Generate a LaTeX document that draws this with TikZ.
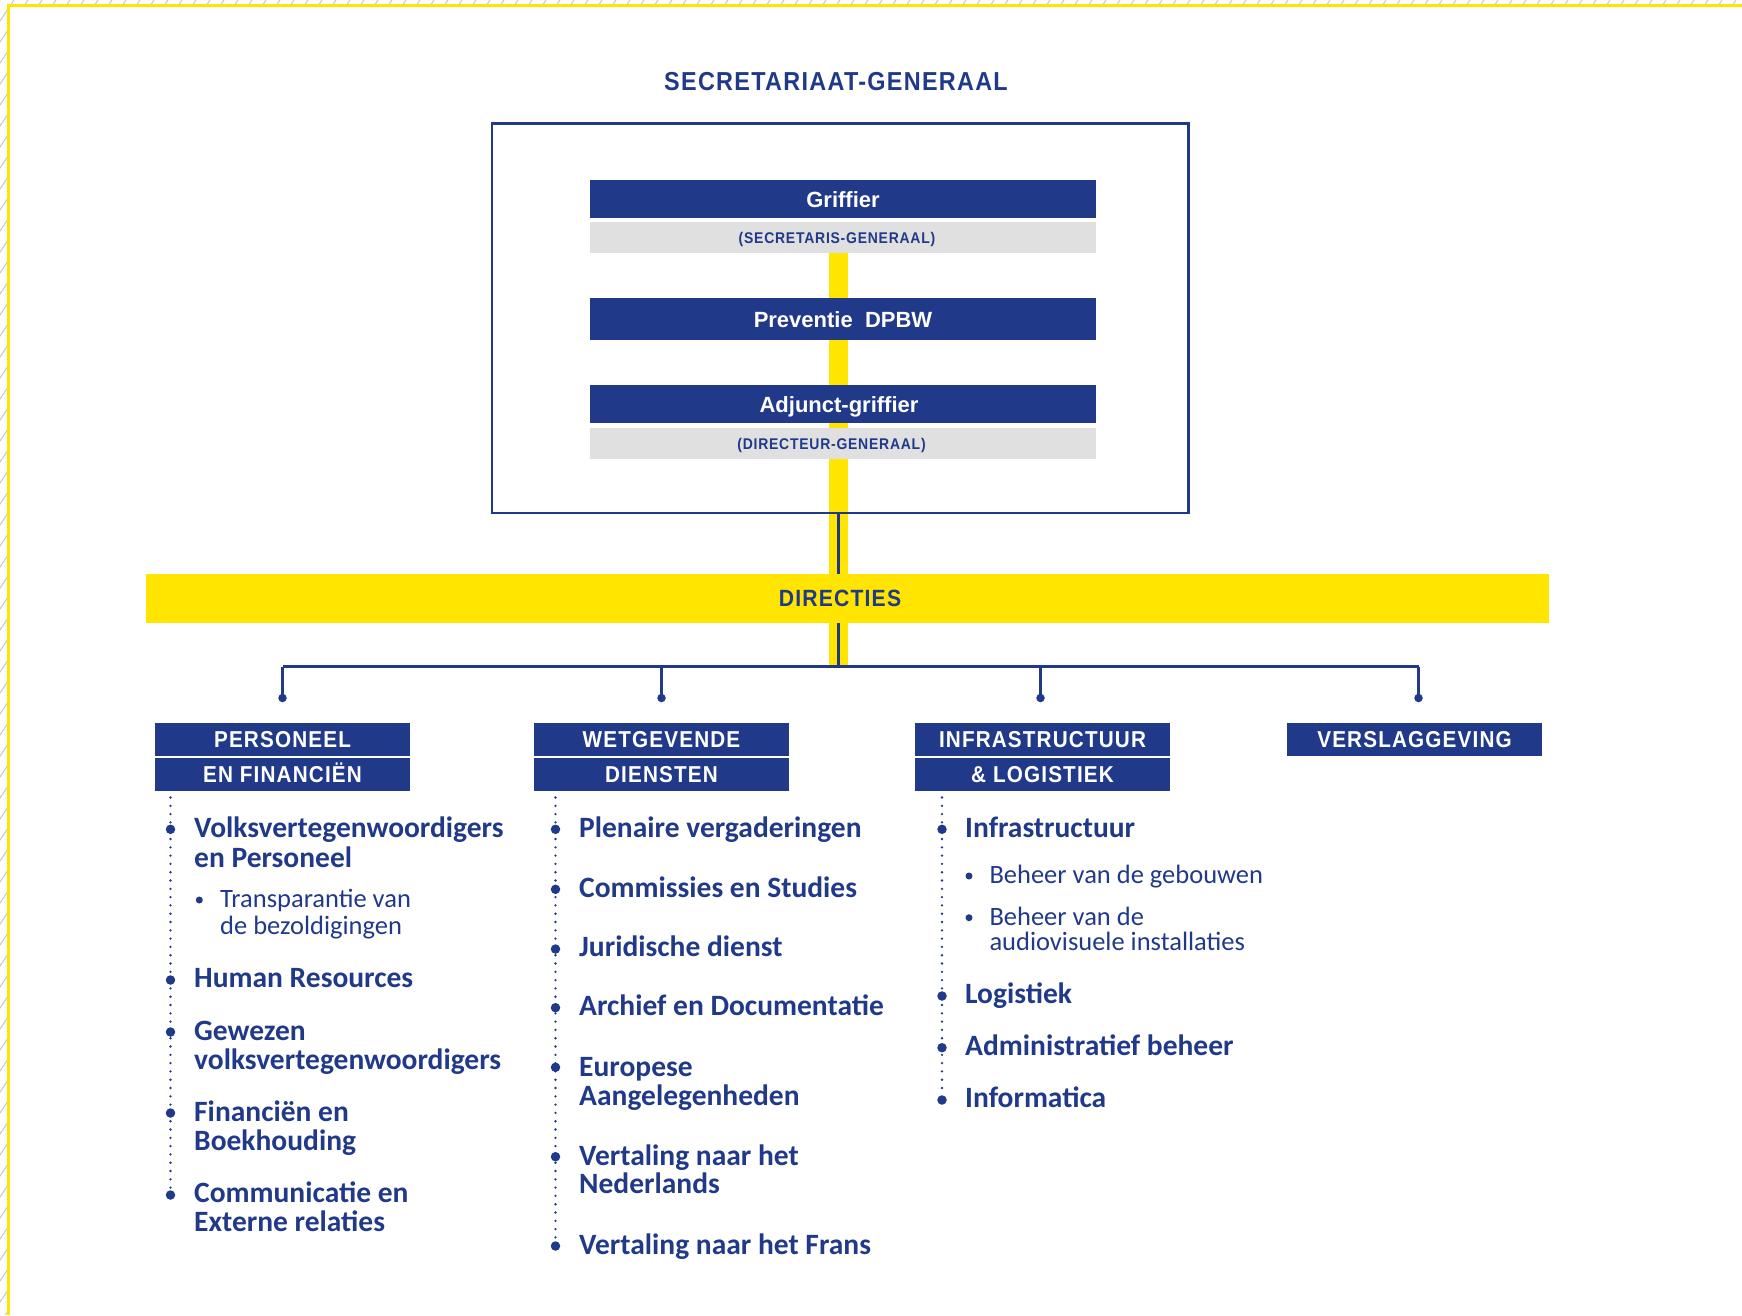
\documentclass[tikz,border=0pt]{standalone}
\usepackage{fontspec}
\setmainfont{Carlito}
\newfontfamily\hdfont{Liberation Sans}
\newfontfamily\hdsp{Liberation Sans}[LetterSpace=5, FakeStretch=0.9]
\usetikzlibrary{backgrounds}
\definecolor{kblue}{RGB}{33,57,137}
\definecolor{kyellow}{RGB}{255,229,0}
\definecolor{kgray}{RGB}{224,224,224}
\definecolor{khatch}{RGB}{200,200,200}
\newcommand\twoline[3]{\vtop{\baselineskip=#1\hbox{#2}\hbox{#3}}}
\begin{document}
\begin{tikzpicture}[x=1pt,y=-1pt,
  topbar/.style={fill=kblue, text=white, font=\hdfont\bfseries\fontsize{22}{22}\selectfont, minimum width=506pt, inner sep=0pt, text height=16pt, text depth=0pt},
  graybar/.style={fill=kgray, text=kblue, font=\hdsp\bfseries\fontsize{15.5}{15.5}\selectfont, minimum width=506pt, minimum height=31pt, inner sep=0pt, text height=11pt, text depth=0pt},
  hdbox/.style={fill=kblue, text=white, font=\hdsp\bfseries\fontsize{23}{23}\selectfont, minimum width=255pt, minimum height=33pt, inner sep=0pt, text height=16.5pt, text depth=0pt},
  item/.style={anchor=base west, inner sep=0pt, text=kblue, font=\bfseries\fontsize{29.5}{30}\selectfont},
  subitem/.style={anchor=base west, inner sep=0pt, text=kblue, font=\fontsize{26.5}{27}\selectfont},
  bul/.style={circle, fill=kblue, inner sep=0pt, minimum size=9.5pt},
  subbul/.style={circle, fill=kblue, inner sep=0pt, minimum size=7pt},
  pin/.style={circle, fill=kblue, inner sep=0pt, minimum size=8.5pt},
  dotline/.style={kblue, line width=2.6pt, line cap=round, dash pattern=on 0pt off 8.3pt},
  conn/.style={kblue, line width=2.7pt}
]
\useasboundingbox (0,0) rectangle (1742,1315);
% margin hatch and yellow frame
\begin{scope}
  \clip (0,0) rectangle (1742,4.3) (0,0) rectangle (7,1315);
  \foreach \t in {0,14,...,2700} {
    \draw[khatch, line width=1pt] (\t,0) -- ++(-1000,1500);
  }
\end{scope}
\draw[kyellow, line width=2.4pt] (8.3,1315) -- (8.3,5.5) -- (1742,5.5);

% title and top box
\node[anchor=base, inner sep=0pt, text=kblue, font=\hdsp\bfseries\fontsize{26}{26}\selectfont] (title) at (836,90) {SECRETARIAAT-GENERAAL};
\node[draw=kblue, line width=2.2pt, minimum width=696.5pt, minimum height=389.5pt, inner sep=0pt] (frame) at (840.25,318.25) {};
\node[topbar, minimum height=38pt] (grif) at (843,199) {Griffier};
\node[graybar] (g1) at (843,237.5) {\hspace*{-12pt}(SECRETARIS-GENERAAL)};
\node[topbar, minimum height=42pt] (prev) at (843,319) {Preventie\ \ DPBW};
\node[topbar, minimum height=38pt] (adj) at (843,404) {\hspace*{-8pt}Adjunct-griffier};
\node[graybar] (g2) at (843,443.5) {\hspace*{-23pt}(DIRECTEUR-GENERAAL)};

% directies bar
\node[fill=kyellow, minimum width=1403pt, minimum height=49pt, inner sep=0pt] (dir) at (847.5,598.5) {};
\node[text=kblue, inner sep=0pt, font=\hdsp\bfseries\fontsize{23.5}{23.5}\selectfont, text height=16.5pt, text depth=0pt] (dirlbl) at (840,598.5) {DIRECTIES};
\coordinate (hub) at (838.5,666.5);

\begin{scope}[on background layer]
  \draw[kyellow, line width=19pt] (g1.south -| hub) -- (hub);
  \draw[kblue, line width=2.6pt] (frame.south -| hub) -- (hub);
\end{scope}

% pins and header boxes
\node[pin] (p1) at (282.5,698) {};
\node[pin] (p2) at (661.5,698) {};
\node[pin] (p3) at (1040.5,698) {};
\node[pin] (p4) at (1418.5,698) {};
\draw[conn] (p1 |- hub) -- (p4 |- hub);
\foreach \p in {p1,p2,p3,p4} { \draw[conn] (\p |- hub) -- (\p.center); }

\node[hdbox] (h1a) at (282.5,739.5) {PERSONEEL};
\node[hdbox] (h1b) at (282.5,774.5) {EN FINANCIËN};
\node[hdbox] (h2a) at (661.5,739.5) {WETGEVENDE};
\node[hdbox] (h2b) at (661.5,774.5) {DIENSTEN};
\node[hdbox] (h3a) at (1042.5,739.5) {INFRASTRUCTUUR};
\node[hdbox] (h3b) at (1042.5,774.5) {\&\ LOGISTIEK};
\node[hdbox] (h4a) at (1414.5,739.5) {VERSLAGGEVING};

% column 1
\node[bul] (b11) at (170.5,829.3) {};
\node[item] (t11) at (194,837) {\twoline{30pt}{Volksvertegenwoordigers}{en Personeel}};
\node[subbul] (s11) at (199.3,900) {};
\node[subitem] (u11) at (220,907) {\twoline{27pt}{Transparantie van}{de bezoldigingen}};
\node[bul] (b12) at (170.5,980) {};
\node[item] (t12) at (194,987) {Human Resources};
\node[bul] (b13) at (170.5,1032) {};
\node[item] (t13) at (194,1040) {\twoline{29pt}{Gewezen}{volksvertegenwoordigers}};
\node[bul] (b14) at (170.5,1113) {};
\node[item] (t14) at (194,1121.7) {\twoline{29pt}{Financiën en}{Boekhouding}};
\node[bul] (b15) at (170.5,1195) {};
\node[item] (t15) at (194,1202.7) {\twoline{29pt}{Communicatie en}{Externe relaties}};
\draw[dotline] ([yshift=2pt]h1b.south -| b11) -- (b15);

% column 2
\node[bul] (b21) at (555.5,829.3) {};
\node[item] (t21) at (579,837.3) {Plenaire vergaderingen};
\node[bul] (b22) at (555.5,889.3) {};
\node[item] (t22) at (579,897) {Commissies en Studies};
\node[bul] (b23) at (555.5,949) {};
\node[item] (t23) at (579,956.7) {Juridische dienst};
\node[bul] (b24) at (555.5,1007.7) {};
\node[item] (t24) at (579,1015.7) {Archief en Documentatie};
\node[bul] (b25) at (555.5,1067.3) {};
\node[item] (t25) at (579,1076) {\twoline{29pt}{Europese}{Aangelegenheden}};
\node[bul] (b26) at (555.5,1156.7) {};
\node[item] (t26) at (579,1165) {\twoline{28.5pt}{Vertaling naar het}{Nederlands}};
\node[bul] (b27) at (555.5,1246) {};
\node[item] (t27) at (579,1254) {Vertaling naar het Frans};
\draw[dotline] ([yshift=2pt]h2b.south -| b21) -- (b27);

% column 3
\node[bul] (b31) at (942,829.3) {};
\node[item] (t31) at (965,837) {Infrastructuur};
\node[subbul] (s31) at (969,876) {};
\node[subitem] (u31) at (989.3,883.3) {Beheer van de gebouwen};
\node[subbul] (s32) at (969,917.7) {};
\node[subitem] (u32) at (989.3,925) {\twoline{25.7pt}{Beheer van de}{audiovisuele installaties}};
\node[bul] (b32) at (942,996) {};
\node[item] (t32) at (965,1003.3) {Logistiek};
\node[bul] (b33) at (942,1047.7) {};
\node[item] (t33) at (965,1055.3) {Administratief beheer};
\node[bul] (b34) at (942,1100) {};
\node[item] (t34) at (965,1107.7) {Informatica};
\draw[dotline] ([yshift=2pt]h3b.south -| b31) -- (b34);
\end{tikzpicture}
\end{document}
